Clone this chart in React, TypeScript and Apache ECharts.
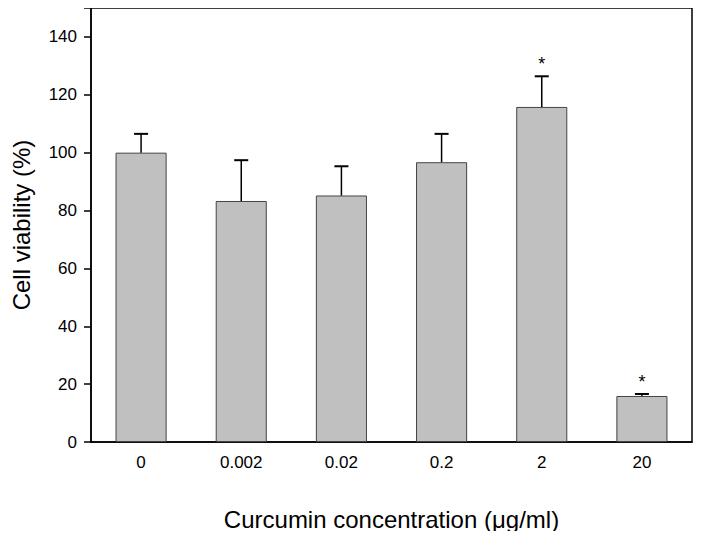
import React, { useEffect, useRef } from "react";
import * as echarts from "echarts";

const categories = ["0", "0.002", "0.02", "0.2", "2", "20"];
const viability = [100, 83.3, 85.2, 96.7, 115.8, 15.9];
const errorUp = [6.5, 14.1, 10.1, 9.8, 10.6, 0.7];
const significant = [false, false, false, false, true, true];
const yTicks = [0, 20, 40, 60, 80, 100, 120, 140];

const FONT = "Liberation Sans, Arial, sans-serif";

export default function App() {
  const ref = useRef<HTMLDivElement>(null);
  useEffect(() => {
    if (!ref.current) return;
    const chart = echarts.init(ref.current, undefined, { renderer: "svg" });
    const errData = categories.map((_, i) => [i, viability[i], viability[i] + errorUp[i]]);
    const starData = categories
      .map((_, i) => [i, viability[i] + errorUp[i]])
      .filter((_, i) => significant[i]);
    chart.setOption({
      animation: false,
      textStyle: { fontFamily: FONT },
      grid: {
        left: 91,
        right: 10,
        top: 8,
        bottom: 97,
        show: true,
        borderColor: "#000",
        borderWidth: 1.5,
        backgroundColor: "transparent",
      },
      xAxis: {
        type: "category",
        data: categories,
        name: "Curcumin concentration (\u03bcg/ml)",
        nameLocation: "middle",
        nameGap: 65,
        nameTextStyle: { fontSize: 24, color: "#000", fontFamily: FONT },
        axisLine: { lineStyle: { color: "#000", width: 1.5 } },
        axisTick: { alignWithLabel: true, length: 6, lineStyle: { color: "#000", width: 1.5 } },
        axisLabel: { fontSize: 17, color: "#000", margin: 12, fontFamily: FONT },
        splitLine: { show: false },
      },
      yAxis: {
        type: "value",
        min: 0,
        max: 150,
        interval: 20,
        name: "Cell viability (%)",
        nameLocation: "middle",
        nameGap: 58,
        nameRotate: 90,
        nameTextStyle: { fontSize: 24, color: "#000", fontFamily: FONT },
        axisLine: { show: true, lineStyle: { color: "#000", width: 1.5 } },
        axisTick: { show: true, length: 7, lineStyle: { color: "#000", width: 1.5 } },
        axisLabel: {
          fontSize: 17,
          color: "#000",
          margin: 14,
          fontFamily: FONT,
          formatter: (v: number) => (yTicks.includes(v) ? String(v) : ""),
        },
        splitLine: { show: false },
      },
      series: [
        {
          type: "bar",
          data: viability,
          barWidth: "51%",
          itemStyle: { color: "#c0c0c0", borderColor: "#444", borderWidth: 1 },
          z: 2,
        },
        {
          type: "custom",
          data: errData,
          z: 3,
          renderItem: (params: any, api: any) => {
            const x = api.value(0);
            const base = api.coord([x, api.value(1)]);
            const top = api.coord([x, api.value(2)]);
            const half = 7;
            return {
              type: "group",
              children: [
                {
                  type: "line",
                  shape: { x1: base[0], y1: base[1], x2: top[0], y2: top[1] },
                  style: { stroke: "#000", lineWidth: 1.5 },
                },
                {
                  type: "line",
                  shape: { x1: top[0] - half, y1: top[1], x2: top[0] + half, y2: top[1] },
                  style: { stroke: "#000", lineWidth: 2 },
                },
              ],
            };
          },
        },
        {
          type: "custom",
          data: starData,
          z: 4,
          renderItem: (params: any, api: any) => {
            const p = api.coord([api.value(0), api.value(1)]);
            return {
              type: "text",
              style: {
                x: p[0],
                y: p[1] - 12,
                text: "*",
                fontSize: 18,
                fontFamily: FONT,
                fill: "#000",
                align: "center",
                verticalAlign: "middle",
              },
            };
          },
        },
      ],
    });
    return () => chart.dispose();
  }, []);
  return <div ref={ref} style={{ width: 702, height: 539, margin: -8 }} />;
}
